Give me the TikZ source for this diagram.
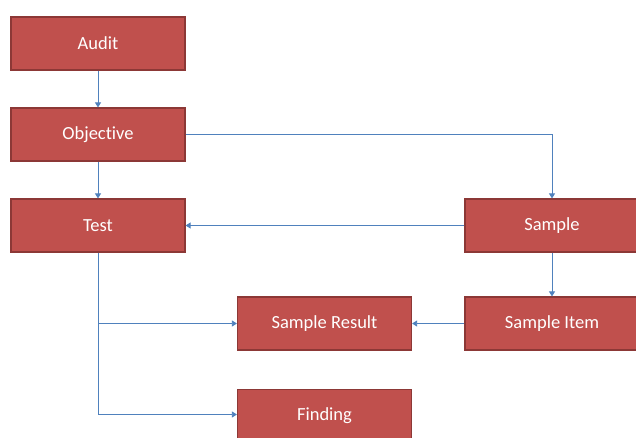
\documentclass[tikz,border=0pt]{standalone}
\usepackage{fontspec}
\setmainfont{Carlito}[Ligatures={NoCommon}]
\usetikzlibrary{arrows.meta}
\definecolor{boxfill}{HTML}{C0504D}
\definecolor{boxline}{HTML}{8C3836}
\definecolor{conn}{HTML}{4F81BD}
\begin{document}
\begin{tikzpicture}[x=1pt,y=-1pt,
  box/.style={draw=boxline,line width=1.2pt,fill=boxfill,text=white,
    minimum width=174pt,minimum height=53pt,inner sep=0pt,
    font=\fontsize{18.5}{20}\selectfont},
  link/.style={draw=conn,line width=0.8pt,-{Triangle[width=6pt,length=5pt]}}]
\useasboundingbox (0,0) rectangle (636,437);
\clip (0,0) rectangle (636,437);
\fill[white] (0,0) rectangle (636,437);
\node[box] (audit) at (98,43.5) {Audit};
\node[box] (objective) at (98,134.5) {Objective};
\node[box] (test) at (98,225.5) {Test};
\node[box] (sample) at (552,225.5) {Sample};
\node[box] (item) at (552,323.5) {Sample Item};
\node[box] (result) at (324.5,323.5) {Sample Result};
\node[box] (finding) at (324.5,416) {Finding};
\coordinate (bend1) at (552,134.5);
\coordinate (j1) at (98,323.5);
\coordinate (j2) at (98,414.5);
\draw[link] (audit) -- (objective);
\draw[link] (objective) -- (test);
\draw[link] (objective.east) -- (bend1) -- (sample.north);
\draw[link] (sample.west) -- (test.east);
\draw[link] (sample) -- (item);
\draw[link] (item.west) -- (result.east);
\draw[draw=conn,line width=0.8pt] (test.south) -- (j2);
\draw[link] (j1) -- (result.west);
\draw[link] (j2) -- (finding.west |- j2);
\end{tikzpicture}
\end{document}
